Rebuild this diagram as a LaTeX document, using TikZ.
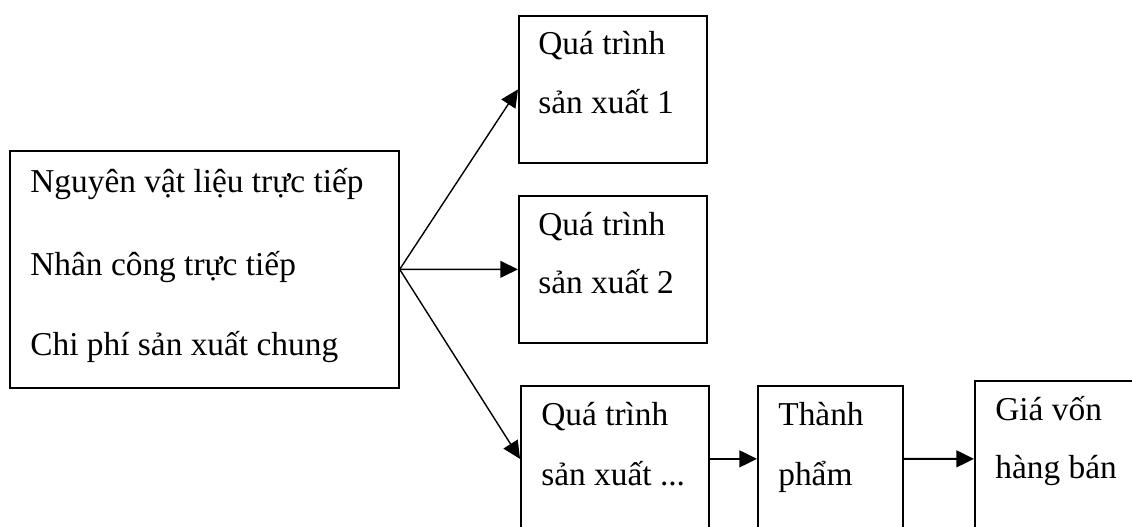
\documentclass[tikz,border=0pt]{standalone}
\usepackage{fontspec}
\setmainfont{Liberation Serif}
\usetikzlibrary{arrows.meta}

\begin{document}
\begin{tikzpicture}[x=0.02cm, y=-0.02cm,
        box/.style={draw, line width=1pt, anchor=north west, inner sep=0pt},
        lbl/.style={anchor=base west, inner sep=0pt, font=\fontsize{19}{23}\selectfont},
        flow/.style={-{Triangle[length=10pt,width=9.5pt]}, line width=0.8pt}]
        \useasboundingbox (0,0) rectangle (1132,527);
        \clip (0,0) rectangle (1132,527);

        % Cost elements
        \node[box, minimum width=7.78cm, minimum height=4.74cm] (raw) at (9,150) {};
        \node[lbl] (raw-a) at (30,192) {Nguyên vật liệu trực tiếp};
        \node[lbl] (raw-b) at (30,275) {Nhân công trực tiếp};
        \node[lbl] (raw-c) at (30,355) {Chi phí sản xuất chung};

        % Production processes
        \node[box, minimum width=3.76cm, minimum height=2.94cm] (qt1) at (518,15) {};
        \node[lbl] (qt1-a) at (538,55) {Quá trình};
        \node[lbl] (qt1-b) at (538,113) {sản xuất 1};

        \node[box, minimum width=3.76cm, minimum height=2.94cm] (qt2) at (518,195) {};
        \node[lbl] (qt2-a) at (538,235) {Quá trình};
        \node[lbl] (qt2-b) at (538,293) {sản xuất 2};

        \node[box, minimum width=3.76cm, minimum height=2.92cm] (qt3) at (520,385) {};
        \node[lbl] (qt3-a) at (541,425) {Quá trình};
        \node[lbl] (qt3-b) at (541,485) {sản xuất ...};

        % Finished goods and cost of sales
        \node[box, minimum width=2.9cm, minimum height=2.92cm] (tp) at (757,385) {};
        \node[lbl] (tp-a) at (778,425) {Thành};
        \node[lbl] (tp-b) at (778,485) {phẩm};

        \node[box, minimum width=4cm, minimum height=3.12cm] (gv) at (974,380) {};
        \node[lbl] (gv-a) at (995,420) {Giá vốn};
        \node[lbl] (gv-b) at (995,478) {hàng bán};

        % Arrows
        \draw[flow] (raw.east) -- (qt1.west);
        \draw[flow] (raw.east) -- (qt2.west);
        \draw[flow] (raw.east) -- (qt3.west);
        \draw[flow, line width=1.2pt] (qt3.east) -- (tp.west);
        \draw[flow, line width=1.2pt] (tp.east) -- (gv.west);
\end{tikzpicture}
\end{document}
